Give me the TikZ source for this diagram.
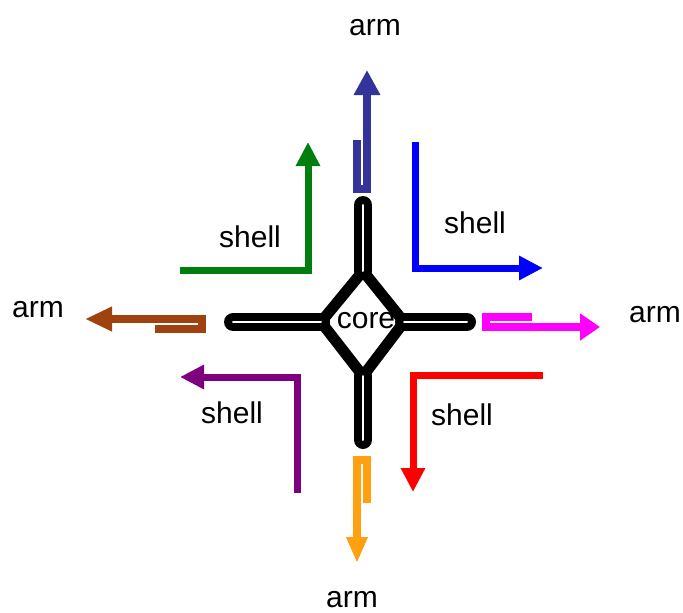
\documentclass[tikz,border=0pt]{standalone}
\usepackage{fontspec}
\setmainfont{Liberation Sans}
\usetikzlibrary{arrows.meta}
\definecolor{armblue}{HTML}{333399}
\definecolor{armmagenta}{HTML}{FF00FF}
\definecolor{armbrown}{HTML}{A0420F}
\definecolor{armorange}{HTML}{FFA010}
\definecolor{shellgreen}{HTML}{007F0E}
\definecolor{shellblue}{HTML}{0000FF}
\definecolor{shellpurple}{HTML}{7F007F}
\definecolor{shellred}{HTML}{FF0000}
\begin{document}
\begin{tikzpicture}[x=1pt,y=-1pt,
  lbl/.style={font=\fontsize{30}{36}\selectfont, inner sep=0pt, anchor=base},
  shellline/.style={line width=7pt, line join=miter, -{Triangle[length=24pt,width=23pt]}},
  armline/.style={line width=8pt, line join=miter},
  bar/.style={line width=8pt, double=white, double distance=2pt, line cap=round}]
\useasboundingbox (0,0) rectangle (683,613);

% core: diamond with four double bars
\coordinate (ct) at (363,271);
\coordinate (cr) at (404,322);
\coordinate (cb) at (363,376);
\coordinate (cl) at (321,322);
\draw[line width=11pt, line join=miter] (ct) -- (cr) -- (cb) -- (cl) -- cycle;
\coordinate (bt) at (363,205);
\coordinate (bb) at (363,440);
\coordinate (bl) at (233,322);
\coordinate (br) at (467,322);
\draw[bar] (bt) -- (ct);
\draw[bar] (bb) -- (cb);
\draw[bar] (bl) -- (cl);
\draw[bar] (br) -- (cr);
\node[lbl] (core) at (366,328) {core};

% arms: hairpins ending in arrows
\draw[armline, armblue, -{Triangle[length=25pt,width=25pt]}]
  (357,140) -- (357,189) -- (367,189) -- (367,70);
\draw[armline, armmagenta, -{Triangle[length=20pt,width=26pt]}]
  (532,317) -- (486,317) -- (486,327) -- (600,327);
\draw[armline, armbrown, -{Triangle[length=27pt,width=23pt]}]
  (155,329) -- (202,329) -- (202,319) -- (85,319);
\draw[armline, armorange, -{Triangle[length=26pt,width=20pt]}]
  (367,503) -- (367,460) -- (357,460) -- (357,563);

% shells
\draw[shellline, shellgreen] (180,270) -- (308,270) -- (308,142);
\draw[shellline, shellblue] (415,142) -- (415,268) -- (543,268);
\draw[shellline, shellpurple] (297,493) -- (297,377) -- (180,377);
\draw[shellline, shellred] (543,375) -- (413,375) -- (413,492);

% labels
\node[lbl] (armT) at (375,35) {arm};
\node[lbl] (armL) at (38,317) {arm};
\node[lbl] (armR) at (655,322) {arm};
\node[lbl] (armB) at (352,607) {arm};
\node[lbl] (shellG) at (250,247) {shell};
\node[lbl] (shellB) at (475,233) {shell};
\node[lbl] (shellP) at (232,423) {shell};
\node[lbl] (shellR) at (462,425) {shell};
\end{tikzpicture}
\end{document}
